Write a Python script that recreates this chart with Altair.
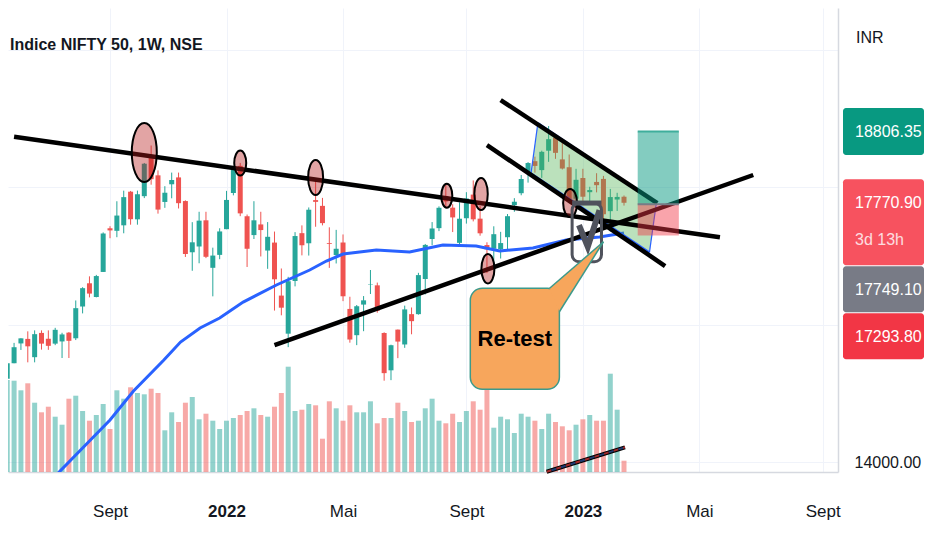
import altair as alt
import pandas as pd

FONT = "Liberation Sans, Arial, sans-serif"
UP = "#26a69a"
DOWN = "#ef5350"
TXT = "#131722"

# ---------------- data ----------------
week_start = "2021-05-17"
opens = [14923, 15211, 15437, 15725, 15791, 15525, 15878, 15793, 15722, 15754, 15882, 15800, 16262, 16600, 16400, 16765,
         17400, 17363, 17443, 17932, 17530, 17867, 18460, 18170, 17783, 18040, 18140, 17796, 17051, 17135, 17516, 16825,
         17013, 17387, 17913, 18308, 17575, 17301, 17456, 17076, 17192, 16421, 15867, 16633, 17329, 17182, 17810, 17726,
         17183, 17010, 17193, 16227, 15845, 16290, 16578, 16570, 15877, 15334, 15926, 15710, 16151, 16151, 16662, 17244,
         17402, 17870, 17700, 17188, 17546, 17890, 17540, 17156, 17102, 17094, 17270, 17736, 17910, 18211, 18376, 18246,
         18528, 18719, 18402, 18288, 17830, 18131, 17925, 18074, 18118, 17649, 17818, 17859]
highs = [15469, 15470, 15733, 15800, 15901, 15915, 15915, 15915, 15952, 15880, 15890, 16350, 16543, 16701, 16722, 17340,
         17430, 17793, 17947, 17943, 17948, 18350, 18604, 18242, 18012, 18210, 18210, 17806, 17489, 17640, 17640, 17118,
         17400, 17944, 18286, 18351, 17600, 17794, 17640, 17490, 17352, 16815, 16694, 17344, 17442, 17703, 18115, 17842,
         17414, 17377, 17310, 16404, 16284, 16414, 16793, 16610, 15887, 15707, 15927, 16275, 16248, 16752, 17172, 17490,
         17719, 18030, 17750, 17778, 17925, 18096, 17722, 17196, 17429, 17348, 17607, 17838, 18175, 18362, 18442, 18529,
         18887, 18728, 18697, 18473, 18265, 18265, 18004, 18201, 18162, 17972, 17916, 17877]
lows = [14885, 15160, 15437, 15630, 15450, 15450, 15635, 15632, 15700, 15513, 15513, 15774, 16162, 16395, 16395, 16764,
        17255, 17270, 17327, 17452, 17452, 17839, 18034, 17613, 17697, 17836, 17688, 16983, 16782, 16891, 16966, 16410,
        16950, 17386, 17879, 17576, 16837, 17244, 16990, 16810, 16203, 16134, 15671, 16555, 17006, 17003, 17422, 17442,
        16824, 16888, 16340, 15736, 15700, 15903, 16444, 16172, 15183, 15191, 15511, 15661, 15858, 16143, 16438, 17154,
        17359, 17710, 17345, 17166, 17468, 17500, 17292, 16748, 16855, 16960, 17098, 17640, 17880, 18064, 18209, 18133,
        18366, 18410, 18255, 17775, 17775, 17796, 17774, 17922, 17493, 17353, 17652, 17730]
closes = [15175, 15435, 15670, 15799, 15683, 15860, 15722, 15690, 15923, 15856, 15763, 16238, 16529, 16450, 16705, 17324,
          17369, 17585, 17853, 17532, 17895, 18339, 18114, 17672, 17917, 18102, 17765, 17026, 17196, 17511, 16985, 17003,
          17354, 17812, 18256, 17617, 17102, 17516, 17374, 17276, 16658, 16245, 16630, 17287, 17153, 17670, 17784, 17475,
          17171, 17102, 16411, 15782, 16266, 16352, 16584, 16201, 15293, 15699, 15752, 16220, 16049, 16719, 17158, 17397,
          17698, 17790, 17558, 17539, 17833, 17530, 17327, 17094, 17314, 17185, 17576, 17786, 18117, 18349, 18307, 18512,
          18696, 18497, 18269, 17806, 18105, 17859, 17956, 18027, 17604, 17854, 17856, 17771]
volumes = [907, 920, 913, 817, 887, 693, 597, 653, 553, 473, 733, 763, 610, 513, 570, 680, 430, 817, 733, 847, 790, 777,
           833, 790, 417, 597, 500, 693, 750, 527, 583, 513, 430, 513, 540, 570, 610, 637, 570, 553, 653, 790, 1053, 610,
           623, 680, 667, 333, 707, 637, 513, 667, 597, 597, 707, 487, 540, 540, 693, 610, 500, 513, 637, 733, 513, 487,
           583, 500, 610, 707, 623, 840, 443, 553, 527, 390, 583, 553, 513, 430, 583, 500, 457, 417, 473, 527, 570, 513,
           513, 983, 623, 113]

ma_dates = ["2021-07-03", "2021-07-17", "2021-08-14", "2021-09-06", "2021-09-30", "2021-10-31", "2021-11-17",
            "2021-12-07", "2021-12-27", "2022-01-20", "2022-02-23", "2022-03-29", "2022-04-15", "2022-05-02",
            "2022-06-05", "2022-07-09", "2022-08-12", "2022-09-15", "2022-10-09", "2022-11-12", "2022-12-16",
            "2023-01-19", "2023-02-13"]
ma_values = [13666, 13869, 14276, 14611, 15033, 15484, 15745, 15949, 16095, 16327, 16575, 16793, 16924, 17025, 17084,
             17055, 17156, 17142, 17069, 17113, 17229, 17273, 17331]

# trend lines: id, start date, start price, end date, end price
line_ids = ["res", "sup", "chanA", "chanB"]
line_d1 = ["2021-05-31", "2022-02-21", "2022-10-10", "2022-09-26"]
line_p1 = [18732, 15702, 19265, 18611]
line_d2 = ["2023-05-22", "2023-06-25", "2023-03-19", "2023-03-27"]
line_p2 = [17270, 18175, 17767, 16851]

small_line_dates = ["2022-11-26", "2023-02-14"]
small_line_prices = [13859, 14214]

# descending channel (green parallelogram) vertices P1..P4
chan_dates = ["2022-11-17", "2023-03-18", "2023-03-11", "2022-11-10"]
chan_prices = [18927, 17763, 17050, 18199]

# highlighted circles: centre date, centre price, radius x / y (px)
circ_dates = ["2021-10-11", "2022-01-17", "2022-04-04", "2022-08-16", "2022-09-20", "2022-09-27", "2022-12-20"]
circ_prices = [18502, 18349, 18138, 17873, 17898, 16812, 17767]
circ_rx = [12.5, 6, 7.5, 5.5, 6.7, 6.5, 7]
circ_ry = [29.5, 12.5, 17.5, 12, 16, 14.7, 14]

# long position tool
pos_start, pos_end = "2023-02-27", "2023-04-10"
entry_price, target_price, stop_price = 17749.10, 18806.35, 17293.80
last_price = 17770.90
countdown = "3d 13h"

# callout
call_text = "Re-test"
call_box_dates = ["2022-09-09", "2022-12-09"]
call_box_prices = [16527, 15058]
call_ptr_dates = ["2022-11-29", "2022-12-09", "2023-01-23"]
call_ptr_prices = [16527, 16186, 17204]

# grey check drawing
chk_box_dates = ["2022-12-22", "2023-01-21"]
chk_box_prices = [17767, 16913]
chk_dates = ["2022-12-29", "2023-01-07", "2023-01-19"]
chk_prices = [17447, 17132, 17665]

xtick_dates = ["2021-09-06", "2022-01-03", "2022-05-02", "2022-09-05", "2023-01-02", "2023-05-01", "2023-09-04"]
xtick_labels = ["Sept", "2022", "Mai", "Sept", "2023", "Mai", "Sept"]
ytick_values = [14000, 16000, 18000, 20000]
ytick_shown = [14000]   # the others are hidden behind the price tags / currency label

title_text = "Indice NIFTY 50, 1W, NSE"
currency = "INR"

# ---------------- layout helpers ----------------
W, H = 830, 464
P_MIN, P_MAX = 13855, 20604
k = H / (P_MAX - P_MIN)


def ms(d):
    return int(pd.Timestamp(d, tz="UTC").timestamp() * 1000)


def px(p):
    return (P_MAX - p) * k


def pr(y):
    return P_MAX - y / k


def interp(t, ta, pa, tb, pb):
    return pa + (pb - pa) * (t - ta) / (tb - ta)


x_domain = [ms("2021-05-24T19:00"), ms("2023-09-19T14:00")]
xscale = alt.Scale(type="utc", domain=x_domain, nice=False)
yscale = alt.Scale(domain=[P_MIN, P_MAX], nice=False, zero=False)
vscale = alt.Scale(domain=[0, 4640], nice=False, zero=False)

tick_ms = [ms(d) for d in xtick_dates]
label_expr = ("[" + ",".join("'" + l + "'" for l in xtick_labels) + "][indexof(["
              + ",".join(str(m) for m in tick_ms) + "], time(datum.value))]")
y_label_expr = ("indexof([" + ",".join(str(v) for v in ytick_shown)
                + "], datum.value) >= 0 ? format(datum.value, '.2f') : ''")

xaxis = alt.Axis(values=tick_ms, labelExpr=label_expr, grid=True, gridColor="#f0f3fa", gridWidth=1,
                 ticks=False, tickSize=0, domain=True, domainColor="#d6d9e0", domainWidth=1.5,
                 labelFont=FONT, labelFontSize=17, labelColor=TXT, labelPadding=44,
                 labelBaseline="alphabetic", labelFlush=False, labelOverlap=False,
                 labelFontWeight={"condition": {"test": "utcmonth(datum.value) == 0", "value": "bold"},
                                  "value": "normal"},
                 title=None)
yaxis = alt.Axis(orient="right", values=ytick_values, labelExpr=y_label_expr,
                 grid=True, gridColor="#f0f3fa", gridWidth=1, ticks=False, tickSize=0,
                 domain=True, domainColor="#d6d9e0", domainWidth=1.5,
                 labelFont=FONT, labelFontSize=16, labelColor=TXT, labelPadding=16, labelAlign="left",
                 title=None)


def X(f):
    return alt.X(f"{f}:T", scale=xscale, axis=xaxis)


def Y(f):
    return alt.Y(f"{f}:Q", scale=yscale, axis=yaxis)


dates = pd.date_range(week_start, periods=len(opens), freq="7D").strftime("%Y-%m-%d")
candles = pd.DataFrame(dict(date=dates, open=opens, high=highs, low=lows, close=closes, volume=volumes))
candles["dir"] = ["up" if c >= o else "down" for o, c in zip(opens, closes)]
col = alt.Color("dir:N", scale=alt.Scale(domain=["up", "down"], range=[UP, DOWN]), legend=None)

base = alt.Chart(candles)
volume = base.mark_rule(strokeWidth=5, opacity=0.5, clip=True).encode(
    x=X("date"), y=alt.Y("volume:Q", scale=vscale, axis=None), y2=alt.datum(0), color=col)
wick = base.mark_rule(strokeWidth=1, clip=True).encode(x=X("date"), y=Y("low"), y2="high:Q", color=col)
body = base.mark_rule(strokeWidth=5, clip=True).encode(x=X("date"), y=Y("open"), y2="close:Q", color=col)

ma = alt.Chart(pd.DataFrame(dict(date=ma_dates, value=ma_values))).mark_line(
    color="#2962ff", strokeWidth=3, clip=True).encode(x=X("date"), y=Y("value"))

# channel polygon as area
t = [ms(d) for d in chan_dates]
p = chan_prices
area_rows = [
    dict(date=t[3], top=p[3], bot=p[3]),
    dict(date=t[0], top=p[0], bot=interp(t[0], t[3], p[3], t[2], p[2])),
    dict(date=t[2], top=interp(t[2], t[0], p[0], t[1], p[1]), bot=p[2]),
    dict(date=t[1], top=p[1], bot=p[1]),
]
chan_area = alt.Chart(pd.DataFrame(area_rows)).mark_area(color="#4caf50", opacity=0.38).encode(
    x=X("date"), y=Y("top"), y2="bot:Q")
edges = [(0, 1, 2.5), (3, 2, 2.0), (3, 0, 1.2), (2, 1, 1.2)]
edge_rows = []
for i, (a, b, w) in enumerate(edges):
    edge_rows.append(dict(id=i, date=t[a], price=p[a], w=w))
    edge_rows.append(dict(id=i, date=t[b], price=p[b], w=w))
chan_edges = alt.Chart(pd.DataFrame(edge_rows)).mark_line(color="#2962ff").encode(
    x=X("date"), y=Y("price"), detail="id:N", strokeWidth=alt.StrokeWidth("w:Q", scale=None))

line_rows = []
for i in range(len(line_ids)):
    line_rows.append(dict(id=line_ids[i], date=line_d1[i], price=line_p1[i]))
    line_rows.append(dict(id=line_ids[i], date=line_d2[i], price=line_p2[i]))
trend = alt.Chart(pd.DataFrame(line_rows)).mark_line(color="#000000", strokeWidth=4.5, clip=True).encode(
    x=X("date"), y=Y("price"), detail="id:N")

sl = pd.DataFrame(dict(date=small_line_dates, price=small_line_prices))
small_black = alt.Chart(sl).mark_line(color="#000000", strokeWidth=4).encode(x=X("date"), y=Y("price"))
small_red = alt.Chart(sl).mark_line(color="#a52a2a", strokeWidth=2, strokeDash=[5, 5]).encode(
    x=X("date"), y=Y("price"))
small_blue = alt.Chart(sl).mark_line(color="#1f3b70", strokeWidth=2, strokeDash=[5, 5],
                                     strokeDashOffset=5).encode(x=X("date"), y=Y("price"))

circ_rows = []
for d, pp, rx, ry in zip(circ_dates, circ_prices, circ_rx, circ_ry):
    a = rx / ry
    path = f"M {-a:.4f} 0 A {a:.4f} 1 0 1 0 {a:.4f} 0 A {a:.4f} 1 0 1 0 {-a:.4f} 0 Z"
    circ_rows.append(dict(date=d, price=pp, path=path, size=4 * ry * ry))
circles = alt.Chart(pd.DataFrame(circ_rows)).mark_point(
    fill="#b71c1c", fillOpacity=0.4, stroke="#000000", strokeWidth=2, opacity=1, strokeOpacity=1).encode(
    x=X("date"), y=Y("price"), shape=alt.Shape("path:N", scale=None), size=alt.Size("size:Q", scale=None))

pos = pd.DataFrame(dict(start=[pos_start, pos_start], end=[pos_end, pos_end],
                        y1=[entry_price, entry_price], y2=[target_price, stop_price],
                        c=["#089981", "#f23645"], o=[0.5, 0.45]))
pos_rect = alt.Chart(pos).mark_rect().encode(
    x=X("start"), x2="end:T", y=Y("y1"), y2="y2:Q", color=alt.Color("c:N", scale=None),
    opacity=alt.Opacity("o:Q", scale=None))
pos_lines = pd.DataFrame(dict(start=[pos_start, pos_start], end=[pos_end, pos_end],
                              price=[entry_price, target_price], c=["#787b86", "#3fae9c"]))
pos_rule = alt.Chart(pos_lines).mark_rule(strokeWidth=2).encode(
    x=X("start"), x2="end:T", y=Y("price"), color=alt.Color("c:N", scale=None))

chk_box = alt.Chart(pd.DataFrame(dict(d1=[chk_box_dates[0]], d2=[chk_box_dates[1]],
                                      p1=[chk_box_prices[0]], p2=[chk_box_prices[1]]))).mark_rect(
    fillOpacity=0, stroke="#4f525c", strokeWidth=3, cornerRadius=7).encode(
    x=X("d1"), x2="d2:T", y=Y("p1"), y2="p2:Q")
chk_top = alt.Chart(pd.DataFrame(dict(d1=[chk_box_dates[0]], d2=[chk_box_dates[1]],
                                      p1=[chk_box_prices[0]]))).mark_rule(
    color="#4f525c", strokeWidth=5).encode(x=X("d1"), x2="d2:T", y=Y("p1"))
chk_mark = alt.Chart(pd.DataFrame(dict(date=chk_dates, price=chk_prices, o=[0, 1, 2]))).mark_line(
    color="#4f525c", strokeWidth=6, strokeJoin="miter").encode(x=X("date"), y=Y("price"), order="o:Q")

ORANGE = "#f7a65c"
TEAL = "#3d9a8b"
call_box = alt.Chart(pd.DataFrame(dict(d1=[call_box_dates[0]], d2=[call_box_dates[1]],
                                       p1=[call_box_prices[0]], p2=[call_box_prices[1]]))).mark_rect(
    fill=ORANGE, stroke=TEAL, strokeWidth=1.5, cornerRadius=12).encode(
    x=X("d1"), x2="d2:T", y=Y("p1"), y2="p2:Q")
ta, tb, tc = [ms(d) for d in call_ptr_dates]
pa, pb, pc = call_ptr_prices
ptr_rows = [dict(date=ta, top=pa, bot=pa),
            dict(date=tb, top=interp(tb, ta, pa, tc, pc), bot=pb),
            dict(date=tc, top=pc, bot=pc)]
call_ptr = alt.Chart(pd.DataFrame(ptr_rows)).mark_area(color=ORANGE, opacity=1).encode(
    x=X("date"), y=Y("top"), y2="bot:Q")
ptr_edge_rows = [dict(id=0, date=ta, price=pa), dict(id=0, date=tc, price=pc),
                 dict(id=1, date=tb, price=pb), dict(id=1, date=tc, price=pc)]
call_ptr_edges = alt.Chart(pd.DataFrame(ptr_edge_rows)).mark_line(color=TEAL, strokeWidth=1.5).encode(
    x=X("date"), y=Y("price"), detail="id:N")
cmid = (ms(call_box_dates[0]) + ms(call_box_dates[1])) / 2
call_txt = alt.Chart(pd.DataFrame(dict(date=[cmid], price=[(call_box_prices[0] + call_box_prices[1]) / 2],
                                       t=[call_text]))).mark_text(
    font=FONT, fontSize=22, fontWeight="bold", color="#000000", baseline="middle", align="center").encode(
    x=X("date"), y=Y("price"), text="t:N")

# price tags on the right scale (stacked so they do not overlap)
tag_vals = [target_price, last_price, entry_price, stop_price]
tag_cols = ["#089981", "#f7525f", "#787b86", "#f23645"]
tag_h = [47, 86, 46, 46]
tag_sub = ["", countdown, "", ""]
rows, sub_rows = [], []
prev_bottom = -1e9
for v, c, h, s in zip(tag_vals, tag_cols, tag_h, tag_sub):
    top = max(px(v) - 23.5, prev_bottom + 1)
    bottom = top + h
    prev_bottom = bottom
    rows.append(dict(y1=pr(top), y2=pr(bottom), ym=pr(top + 23.5), c=c, t=f"{v:.2f}"))
    if s:
        sub_rows.append(dict(ym=pr(top + 60.5), t=s))
tags = pd.DataFrame(rows)
tag_rect = alt.Chart(tags).mark_rect(cornerRadius=3).encode(
    x=alt.value(835), x2=alt.value(916), y=Y("y1"), y2="y2:Q", color=alt.Color("c:N", scale=None))
tag_txt = alt.Chart(tags).mark_text(font=FONT, fontSize=16, color="#ffffff", align="left",
                                    baseline="middle").encode(x=alt.value(847), y=Y("ym"), text="t:N")
tag_sub_txt = alt.Chart(pd.DataFrame(sub_rows)).mark_text(
    font=FONT, fontSize=16, color="#ffffff", opacity=0.8, align="left", baseline="middle").encode(
    x=alt.value(847), y=Y("ym"), text="t:N")

title = alt.Chart(pd.DataFrame(dict(t=[title_text]))).mark_text(
    font=FONT, fontSize=16, fontWeight="bold", color=TXT, align="left", baseline="middle").encode(
    x=alt.value(2), y=alt.value(37), text="t:N")
inr = alt.Chart(pd.DataFrame(dict(t=[currency]))).mark_text(
    font=FONT, fontSize=16, color=TXT, align="left", baseline="middle").encode(
    x=alt.value(848), y=alt.value(30), text="t:N")

price = alt.layer(wick, body, ma, chan_area, chan_edges, trend, small_black, small_red, small_blue,
                  circles, pos_rect, pos_rule, chk_box, chk_top, chk_mark, call_box, call_ptr,
                  call_ptr_edges, call_txt, tag_rect, tag_txt, tag_sub_txt, title, inr)

chart = alt.layer(volume, price).resolve_scale(y="independent").properties(
    width=W, height=H, autosize=alt.AutoSizeParams(type="none"),
    padding={"left": 0, "top": 0, "right": 86, "bottom": 62},
    background="#ffffff",
).configure_view(stroke=None)

chart.save("out.html", embed_options={"renderer": "svg", "actions": False})
